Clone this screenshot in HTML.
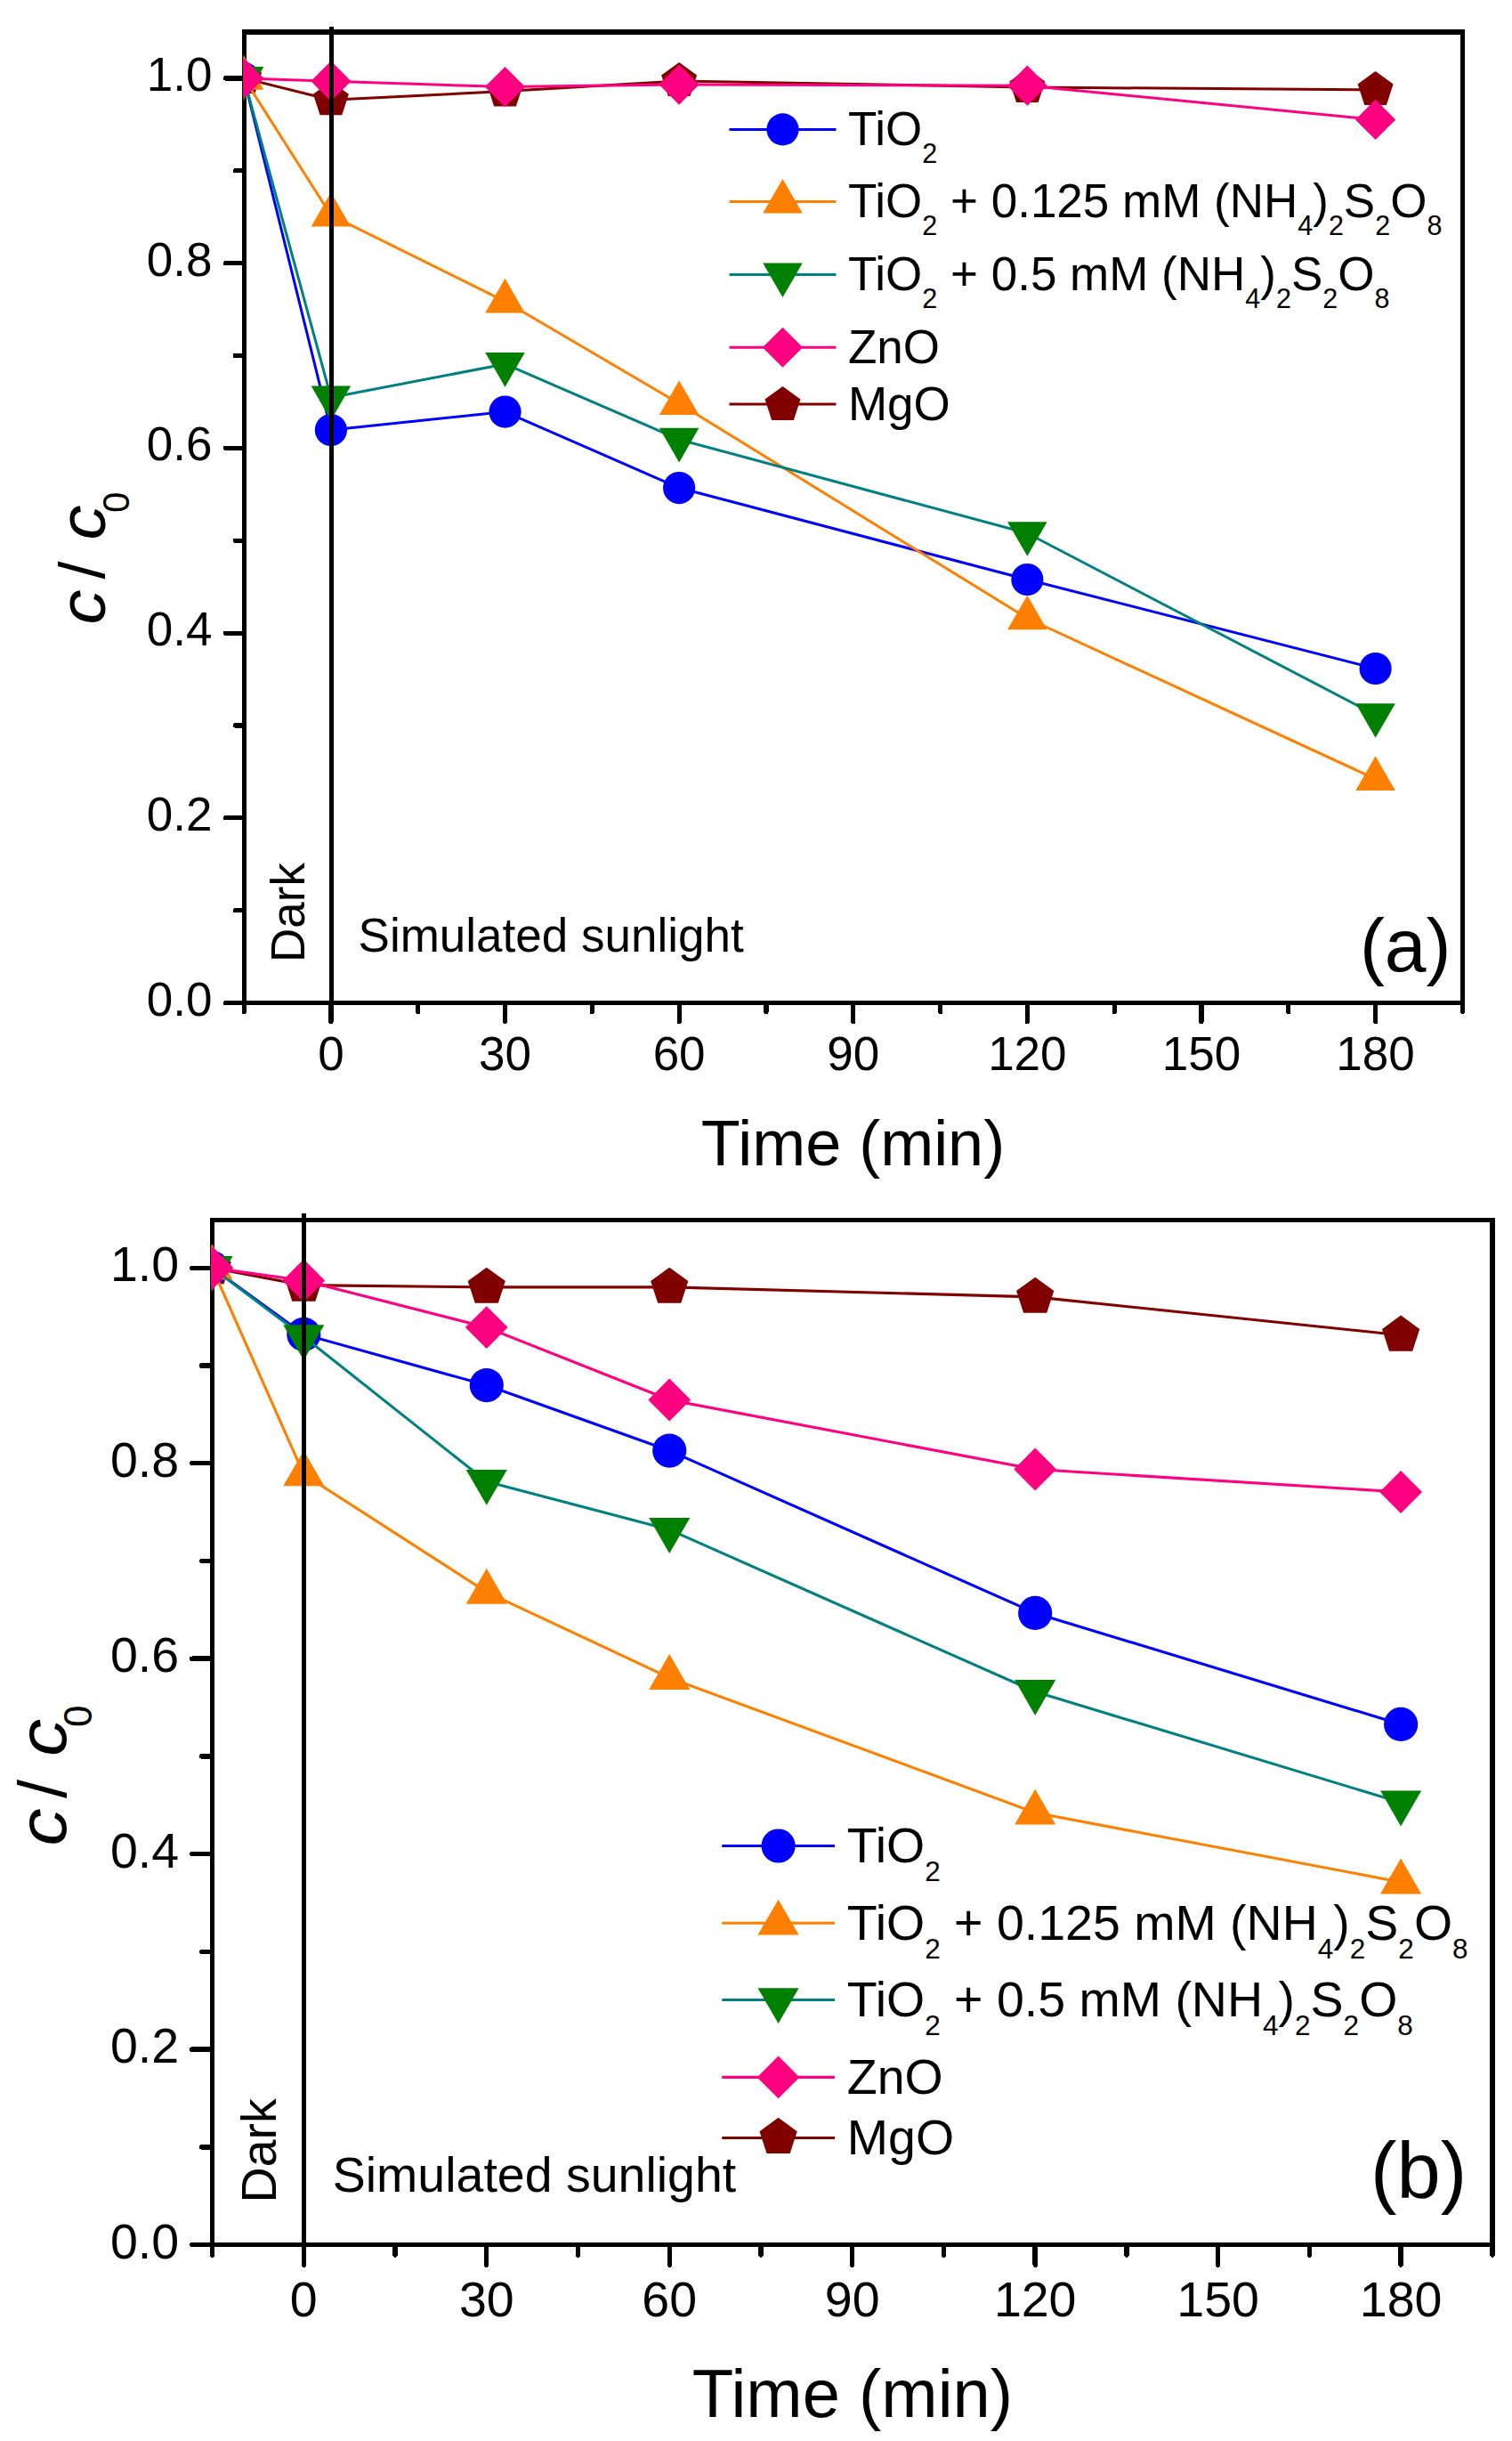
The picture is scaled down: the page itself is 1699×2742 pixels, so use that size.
<!DOCTYPE html>
<html lang="en">
<head>
<meta charset="utf-8">
<title>c/c0 versus time</title>
<style>
html,body{margin:0;padding:0;background:#fff;}
svg{display:block;}
text{font-family:"Liberation Sans", Arial, Helvetica, sans-serif;fill:#000;}
</style>
</head>
<body>
<svg width="1699" height="2742" viewBox="0 0 1699 2742">
<rect width="1699" height="2742" fill="#fff"/>
<g id="panel-a">
<g stroke="#000" stroke-width="5.2" fill="none" stroke-linecap="round" shape-rendering="crispEdges">
<line x1="274.3" y1="1126.6" x2="253.3" y2="1126.6"/>
<line x1="274.3" y1="1022.73" x2="264.3" y2="1022.73"/>
<line x1="274.3" y1="918.86" x2="253.3" y2="918.86"/>
<line x1="274.3" y1="814.99" x2="264.3" y2="814.99"/>
<line x1="274.3" y1="711.12" x2="253.3" y2="711.12"/>
<line x1="274.3" y1="607.25" x2="264.3" y2="607.25"/>
<line x1="274.3" y1="503.38" x2="253.3" y2="503.38"/>
<line x1="274.3" y1="399.51" x2="264.3" y2="399.51"/>
<line x1="274.3" y1="295.64" x2="253.3" y2="295.64"/>
<line x1="274.3" y1="191.77" x2="264.3" y2="191.77"/>
<line x1="274.3" y1="87.9" x2="253.3" y2="87.9"/>
<line x1="274.3" y1="1126.6" x2="274.3" y2="1136.6"/>
<line x1="371.9" y1="1126.6" x2="371.9" y2="1147.6"/>
<line x1="469.71" y1="1126.6" x2="469.71" y2="1136.6"/>
<line x1="567.51" y1="1126.6" x2="567.51" y2="1147.6"/>
<line x1="665.32" y1="1126.6" x2="665.32" y2="1136.6"/>
<line x1="763.13" y1="1126.6" x2="763.13" y2="1147.6"/>
<line x1="860.94" y1="1126.6" x2="860.94" y2="1136.6"/>
<line x1="958.75" y1="1126.6" x2="958.75" y2="1147.6"/>
<line x1="1056.55" y1="1126.6" x2="1056.55" y2="1136.6"/>
<line x1="1154.36" y1="1126.6" x2="1154.36" y2="1147.6"/>
<line x1="1252.17" y1="1126.6" x2="1252.17" y2="1136.6"/>
<line x1="1349.97" y1="1126.6" x2="1349.97" y2="1147.6"/>
<line x1="1447.78" y1="1126.6" x2="1447.78" y2="1136.6"/>
<line x1="1545.59" y1="1126.6" x2="1545.59" y2="1147.6"/>
<line x1="1643.5" y1="1126.6" x2="1643.5" y2="1136.6"/>
</g>
<rect x="274.3" y="35.96" width="1369.2" height="1090.63" fill="none" stroke="#000" stroke-width="5.2" shape-rendering="crispEdges"/>
<clipPath id="clip-a"><rect x="273.3" y="35.96" width="1370.2" height="1090.63"/></clipPath>
<g clip-path="url(#clip-a)">
<polyline fill="none" stroke="#800000" stroke-width="3" stroke-linejoin="round" points="274.09,87.9 371.9,112.21 567.51,102.55 763.13,91.02 1154.36,97.98 1545.59,100.99"/>
<polygon points="274.09,66.9 294.06,81.41 286.44,104.89 261.75,104.89 254.12,81.41" fill="#800000"/>
<polygon points="371.9,91.21 391.87,105.72 384.24,129.19 359.56,129.19 351.93,105.72" fill="#800000"/>
<polygon points="567.51,81.55 587.49,96.06 579.86,119.54 555.17,119.54 547.54,96.06" fill="#800000"/>
<polygon points="763.13,70.02 783.1,84.53 775.47,108.01 750.79,108.01 743.16,84.53" fill="#800000"/>
<polygon points="1154.36,76.98 1174.33,91.49 1166.7,114.96 1142.02,114.96 1134.39,91.49" fill="#800000"/>
<polygon points="1545.59,79.99 1565.56,94.5 1557.93,117.98 1533.25,117.98 1525.62,94.5" fill="#800000"/>
<polyline fill="none" stroke="#0000ff" stroke-width="3" stroke-linejoin="round" points="274.09,87.9 371.9,483.02 567.51,462.56 763.13,548.04 1154.36,650.98 1545.59,751.01"/>
<circle cx="274.09" cy="87.9" r="18.1" fill="#0000ff"/>
<circle cx="371.9" cy="483.02" r="18.1" fill="#0000ff"/>
<circle cx="567.51" cy="462.56" r="18.1" fill="#0000ff"/>
<circle cx="763.13" cy="548.04" r="18.1" fill="#0000ff"/>
<circle cx="1154.36" cy="650.98" r="18.1" fill="#0000ff"/>
<circle cx="1545.59" cy="751.01" r="18.1" fill="#0000ff"/>
<polyline fill="none" stroke="#ff8000" stroke-width="3" stroke-linejoin="round" points="274.09,87.9 371.9,241.73 567.51,338.54 763.13,453.21 1154.36,694.5 1545.59,875.03"/>
<polygon points="274.09,62.2 296.35,100.75 251.84,100.75" fill="#ff8000"/>
<polygon points="371.9,216.03 394.16,254.58 349.64,254.58" fill="#ff8000"/>
<polygon points="567.51,312.84 589.77,351.39 545.26,351.39" fill="#ff8000"/>
<polygon points="763.13,427.51 785.39,466.06 740.87,466.06" fill="#ff8000"/>
<polygon points="1154.36,668.8 1176.62,707.35 1132.1,707.35" fill="#ff8000"/>
<polygon points="1545.59,849.33 1567.85,887.88 1523.33,887.88" fill="#ff8000"/>
<polyline fill="none" stroke="#008080" stroke-width="3" stroke-linejoin="round" points="274.09,87.9 371.9,446.46 567.51,408.96 763.13,493.72 1154.36,599.04 1545.59,803.04"/>
<polygon points="274.09,113.6 296.35,75.05 251.84,75.05" fill="#008000"/>
<polygon points="371.9,472.16 394.16,433.61 349.64,433.61" fill="#008000"/>
<polygon points="567.51,434.66 589.77,396.11 545.26,396.11" fill="#008000"/>
<polygon points="763.13,519.42 785.39,480.87 740.87,480.87" fill="#008000"/>
<polygon points="1154.36,624.74 1176.62,586.19 1132.1,586.19" fill="#008000"/>
<polygon points="1545.59,828.74 1567.85,790.19 1523.33,790.19" fill="#008000"/>
<polyline fill="none" stroke="#ff0080" stroke-width="3" stroke-linejoin="round" points="274.09,87.9 371.9,91.22 567.51,97.56 763.13,95.07 1154.36,96.21 1545.59,134.43"/>
<polygon points="274.09,65.3 296.69,87.9 274.09,110.5 251.49,87.9" fill="#ff0080"/>
<polygon points="371.9,68.62 394.5,91.22 371.9,113.82 349.3,91.22" fill="#ff0080"/>
<polygon points="567.51,74.96 590.12,97.56 567.51,120.16 544.91,97.56" fill="#ff0080"/>
<polygon points="763.13,72.47 785.73,95.07 763.13,117.67 740.53,95.07" fill="#ff0080"/>
<polygon points="1154.36,73.61 1176.96,96.21 1154.36,118.81 1131.76,96.21" fill="#ff0080"/>
<polygon points="1545.59,111.83 1568.19,134.43 1545.59,157.03 1522.99,134.43" fill="#ff0080"/>
</g>
<line x1="372.2" y1="29.5" x2="372.2" y2="1126.6" stroke="#000" stroke-width="4.7" shape-rendering="crispEdges"/>
<g font-size="53" fill="#000">
<text x="238.5" y="1140.6" text-anchor="end">0.0</text>
<text x="238.5" y="932.86" text-anchor="end">0.2</text>
<text x="238.5" y="725.12" text-anchor="end">0.4</text>
<text x="238.5" y="517.38" text-anchor="end">0.6</text>
<text x="238.5" y="309.64" text-anchor="end">0.8</text>
<text x="238.5" y="101.9" text-anchor="end">1.0</text>
<text x="371.9" y="1201.7" text-anchor="middle">0</text>
<text x="567.51" y="1201.7" text-anchor="middle">30</text>
<text x="763.13" y="1201.7" text-anchor="middle">60</text>
<text x="958.75" y="1201.7" text-anchor="middle">90</text>
<text x="1154.36" y="1201.7" text-anchor="middle">120</text>
<text x="1349.97" y="1201.7" text-anchor="middle">150</text>
<text x="1545.59" y="1201.7" text-anchor="middle">180</text>
</g>
<text x="958.5" y="1308.75" font-size="72" text-anchor="middle">Time (min)</text>
<g font-size="72">
<text transform="translate(118,701.5) rotate(-90) scale(1.054,1)" font-style="italic" font-size="74">c</text>
<text transform="translate(117,650.6) rotate(-90)">/</text>
<text transform="translate(118,606.5) rotate(-90) scale(1.054,1)" font-style="italic" font-size="74">c</text>
<text transform="translate(144.5,576) rotate(-90)" font-size="42">0</text>
</g>
<g font-size="53">
<text transform="translate(341.5,1081) rotate(-90)">Dark</text>
<text x="402.6" y="1068.7">Simulated sunlight</text>
</g>
<text x="1527.9" y="1091.3" font-size="84">(a)</text>
<g font-size="53">
<line x1="819.5" y1="145.4" x2="939.5" y2="145.4" stroke="#0000ff" stroke-width="3"/>
<circle cx="879.5" cy="145.4" r="18.1" fill="#0000ff"/>
<text x="952.9" y="163">TiO<tspan font-size="30.5" dy="19.8">2</tspan></text>
<line x1="819.5" y1="226.6" x2="939.5" y2="226.6" stroke="#ff8000" stroke-width="3"/>
<polygon points="879.5,200.9 901.76,239.45 857.24,239.45" fill="#ff8000"/>
<text x="952.9" y="244.2">TiO<tspan font-size="30.5" dy="19.8">2</tspan><tspan dy="-19.8"> + 0.125 mM (NH</tspan><tspan font-size="30.5" dy="19.8">4</tspan><tspan dy="-19.8">)</tspan><tspan font-size="30.5" dy="19.8">2</tspan><tspan dy="-19.8">S</tspan><tspan font-size="30.5" dy="19.8">2</tspan><tspan dy="-19.8">O</tspan><tspan font-size="30.5" dy="19.8">8</tspan></text>
<line x1="819.5" y1="308.4" x2="939.5" y2="308.4" stroke="#008080" stroke-width="3"/>
<polygon points="879.5,334.1 901.76,295.55 857.24,295.55" fill="#008000"/>
<text x="952.9" y="326">TiO<tspan font-size="30.5" dy="19.8">2</tspan><tspan dy="-19.8"> + 0.5 mM (NH</tspan><tspan font-size="30.5" dy="19.8">4</tspan><tspan dy="-19.8">)</tspan><tspan font-size="30.5" dy="19.8">2</tspan><tspan dy="-19.8">S</tspan><tspan font-size="30.5" dy="19.8">2</tspan><tspan dy="-19.8">O</tspan><tspan font-size="30.5" dy="19.8">8</tspan></text>
<line x1="819.5" y1="390.25" x2="939.5" y2="390.25" stroke="#ff0080" stroke-width="3"/>
<polygon points="879.5,367.65 902.1,390.25 879.5,412.85 856.9,390.25" fill="#ff0080"/>
<text x="952.9" y="407.85">ZnO</text>
<line x1="819.5" y1="454.1" x2="939.5" y2="454.1" stroke="#800000" stroke-width="3"/>
<polygon points="879.5,434.1 899.47,448.61 891.84,472.09 867.16,472.09 859.53,448.61" fill="#800000"/>
<text x="952.9" y="471.7">MgO</text>
</g>
</g>
<g id="panel-b">
<g stroke="#000" stroke-width="5.4" fill="none" stroke-linecap="round" shape-rendering="crispEdges">
<line x1="238.2" y1="2521.6" x2="215.7" y2="2521.6"/>
<line x1="238.2" y1="2411.86" x2="226.7" y2="2411.86"/>
<line x1="238.2" y1="2302.13" x2="215.7" y2="2302.13"/>
<line x1="238.2" y1="2192.39" x2="226.7" y2="2192.39"/>
<line x1="238.2" y1="2082.66" x2="215.7" y2="2082.66"/>
<line x1="238.2" y1="1972.92" x2="226.7" y2="1972.92"/>
<line x1="238.2" y1="1863.19" x2="215.7" y2="1863.19"/>
<line x1="238.2" y1="1753.45" x2="226.7" y2="1753.45"/>
<line x1="238.2" y1="1643.72" x2="215.7" y2="1643.72"/>
<line x1="238.2" y1="1533.99" x2="226.7" y2="1533.99"/>
<line x1="238.2" y1="1424.25" x2="215.7" y2="1424.25"/>
<line x1="238.2" y1="2521.6" x2="238.2" y2="2533.1"/>
<line x1="341.3" y1="2521.6" x2="341.3" y2="2544.1"/>
<line x1="444.04" y1="2521.6" x2="444.04" y2="2533.1"/>
<line x1="546.77" y1="2521.6" x2="546.77" y2="2544.1"/>
<line x1="649.5" y1="2521.6" x2="649.5" y2="2533.1"/>
<line x1="752.24" y1="2521.6" x2="752.24" y2="2544.1"/>
<line x1="854.98" y1="2521.6" x2="854.98" y2="2533.1"/>
<line x1="957.71" y1="2521.6" x2="957.71" y2="2544.1"/>
<line x1="1060.44" y1="2521.6" x2="1060.44" y2="2533.1"/>
<line x1="1163.18" y1="2521.6" x2="1163.18" y2="2544.1"/>
<line x1="1265.91" y1="2521.6" x2="1265.91" y2="2533.1"/>
<line x1="1368.65" y1="2521.6" x2="1368.65" y2="2544.1"/>
<line x1="1471.38" y1="2521.6" x2="1471.38" y2="2533.1"/>
<line x1="1574.12" y1="2521.6" x2="1574.12" y2="2544.1"/>
<line x1="1677.1" y1="2521.6" x2="1677.1" y2="2533.1"/>
</g>
<rect x="238.2" y="1370.3" width="1438.9" height="1151.3" fill="none" stroke="#000" stroke-width="5.4" shape-rendering="crispEdges"/>
<clipPath id="clip-b"><rect x="237.2" y="1370.3" width="1439.9" height="1151.3"/></clipPath>
<g clip-path="url(#clip-b)">
<polyline fill="none" stroke="#800000" stroke-width="3.1" stroke-linejoin="round" points="238.56,1424.25 341.3,1443.67 546.77,1445.87 752.24,1445.87 1163.18,1456.84 1574.12,1499.75"/>
<polygon points="238.56,1402.05 259.68,1417.39 251.61,1442.21 225.52,1442.21 217.45,1417.39" fill="#800000"/>
<polygon points="341.3,1421.47 362.41,1436.81 354.35,1461.63 328.25,1461.63 320.19,1436.81" fill="#800000"/>
<polygon points="546.77,1423.67 567.88,1439.01 559.82,1463.83 533.72,1463.83 525.66,1439.01" fill="#800000"/>
<polygon points="752.24,1423.67 773.35,1439.01 765.29,1463.83 739.19,1463.83 731.13,1439.01" fill="#800000"/>
<polygon points="1163.18,1434.64 1184.29,1449.98 1176.23,1474.8 1150.13,1474.8 1142.07,1449.98" fill="#800000"/>
<polygon points="1574.12,1477.55 1595.23,1492.89 1587.17,1517.71 1561.07,1517.71 1553.01,1492.89" fill="#800000"/>
<polyline fill="none" stroke="#0000ff" stroke-width="3.1" stroke-linejoin="round" points="238.56,1424.25 341.3,1498.87 546.77,1556.04 752.24,1629.56 1163.18,1811.94 1574.12,1936.93"/>
<circle cx="238.56" cy="1424.25" r="19.1" fill="#0000ff"/>
<circle cx="341.3" cy="1498.87" r="19.1" fill="#0000ff"/>
<circle cx="546.77" cy="1556.04" r="19.1" fill="#0000ff"/>
<circle cx="752.24" cy="1629.56" r="19.1" fill="#0000ff"/>
<circle cx="1163.18" cy="1811.94" r="19.1" fill="#0000ff"/>
<circle cx="1574.12" cy="1936.93" r="19.1" fill="#0000ff"/>
<polyline fill="none" stroke="#ff8000" stroke-width="3.1" stroke-linejoin="round" points="238.56,1424.25 341.3,1656.01 546.77,1788.35 752.24,1884.7 1163.18,2036.24 1574.12,2114.15"/>
<polygon points="238.56,1397.65 261.6,1437.55 215.53,1437.55" fill="#ff8000"/>
<polygon points="341.3,1629.41 364.34,1669.31 318.26,1669.31" fill="#ff8000"/>
<polygon points="546.77,1761.75 569.81,1801.65 523.73,1801.65" fill="#ff8000"/>
<polygon points="752.24,1858.1 775.28,1898 729.2,1898" fill="#ff8000"/>
<polygon points="1163.18,2009.64 1186.22,2049.54 1140.14,2049.54" fill="#ff8000"/>
<polygon points="1574.12,2087.55 1597.16,2127.45 1551.08,2127.45" fill="#ff8000"/>
<polyline fill="none" stroke="#008080" stroke-width="3.1" stroke-linejoin="round" points="238.56,1424.25 341.3,1501.5 546.77,1664.24 752.24,1718.34 1163.18,1900.28 1574.12,2024.83"/>
<polygon points="238.56,1450.85 261.6,1410.95 215.53,1410.95" fill="#008000"/>
<polygon points="341.3,1528.1 364.34,1488.2 318.26,1488.2" fill="#008000"/>
<polygon points="546.77,1690.84 569.81,1650.94 523.73,1650.94" fill="#008000"/>
<polygon points="752.24,1744.94 775.28,1705.04 729.2,1705.04" fill="#008000"/>
<polygon points="1163.18,1926.88 1186.22,1886.98 1140.14,1886.98" fill="#008000"/>
<polygon points="1574.12,2051.43 1597.16,2011.53 1551.08,2011.53" fill="#008000"/>
<polyline fill="none" stroke="#ff0080" stroke-width="3.1" stroke-linejoin="round" points="238.56,1424.25 341.3,1438.52 546.77,1491.08 752.24,1572.5 1163.18,1650.52 1574.12,1675.98"/>
<polygon points="238.56,1400.35 262.46,1424.25 238.56,1448.15 214.66,1424.25" fill="#ff0080"/>
<polygon points="341.3,1414.62 365.2,1438.52 341.3,1462.42 317.4,1438.52" fill="#ff0080"/>
<polygon points="546.77,1467.18 570.67,1491.08 546.77,1514.98 522.87,1491.08" fill="#ff0080"/>
<polygon points="752.24,1548.6 776.14,1572.5 752.24,1596.4 728.34,1572.5" fill="#ff0080"/>
<polygon points="1163.18,1626.62 1187.08,1650.52 1163.18,1674.42 1139.28,1650.52" fill="#ff0080"/>
<polygon points="1574.12,1652.08 1598.02,1675.98 1574.12,1699.88 1550.22,1675.98" fill="#ff0080"/>
</g>
<line x1="341.9" y1="1363.3" x2="341.9" y2="2521.6" stroke="#000" stroke-width="5.1" shape-rendering="crispEdges"/>
<g font-size="55.5" fill="#000">
<text x="201.1" y="2536.6" text-anchor="end">0.0</text>
<text x="201.1" y="2317.13" text-anchor="end">0.2</text>
<text x="201.1" y="2097.66" text-anchor="end">0.4</text>
<text x="201.1" y="1878.19" text-anchor="end">0.6</text>
<text x="201.1" y="1658.72" text-anchor="end">0.8</text>
<text x="201.1" y="1439.25" text-anchor="end">1.0</text>
<text x="341.3" y="2601.5" text-anchor="middle">0</text>
<text x="546.77" y="2601.5" text-anchor="middle">30</text>
<text x="752.24" y="2601.5" text-anchor="middle">60</text>
<text x="957.71" y="2601.5" text-anchor="middle">90</text>
<text x="1163.18" y="2601.5" text-anchor="middle">120</text>
<text x="1368.65" y="2601.5" text-anchor="middle">150</text>
<text x="1574.12" y="2601.5" text-anchor="middle">180</text>
</g>
<text x="958" y="2714.5" font-size="76" text-anchor="middle">Time (min)</text>
<g font-size="76">
<text transform="translate(73.7,2073.5) rotate(-90) scale(1.1,1)" font-style="italic" font-size="76.5">c</text>
<text transform="translate(74,2020) rotate(-90)">/</text>
<text transform="translate(73.7,1973) rotate(-90) scale(1.1,1)" font-style="italic" font-size="76.5">c</text>
<text transform="translate(102.6,1940) rotate(-90)" font-size="44">0</text>
</g>
<g font-size="55.5">
<text transform="translate(309.5,2474.4) rotate(-90)">Dark</text>
<text x="373.75" y="2461.8">Simulated sunlight</text>
</g>
<text x="1540.1" y="2469.3" font-size="88.5">(b)</text>
<g font-size="55.5">
<line x1="811.25" y1="2073.5" x2="938" y2="2073.5" stroke="#0000ff" stroke-width="3.1"/>
<circle cx="874.6" cy="2073.5" r="19.1" fill="#0000ff"/>
<text x="951.8" y="2092">TiO<tspan font-size="31.5" dy="20.8">2</tspan></text>
<line x1="811.25" y1="2160.25" x2="938" y2="2160.25" stroke="#ff8000" stroke-width="3.1"/>
<polygon points="874.6,2133.65 897.64,2173.55 851.56,2173.55" fill="#ff8000"/>
<text x="951.8" y="2178.75">TiO<tspan font-size="31.5" dy="20.8">2</tspan><tspan dy="-20.8"> + 0.125 mM (NH</tspan><tspan font-size="31.5" dy="20.8">4</tspan><tspan dy="-20.8">)</tspan><tspan font-size="31.5" dy="20.8">2</tspan><tspan dy="-20.8">S</tspan><tspan font-size="31.5" dy="20.8">2</tspan><tspan dy="-20.8">O</tspan><tspan font-size="31.5" dy="20.8">8</tspan></text>
<line x1="811.25" y1="2246.5" x2="938" y2="2246.5" stroke="#008080" stroke-width="3.1"/>
<polygon points="874.6,2273.1 897.64,2233.2 851.56,2233.2" fill="#008000"/>
<text x="951.8" y="2265">TiO<tspan font-size="31.5" dy="20.8">2</tspan><tspan dy="-20.8"> + 0.5 mM (NH</tspan><tspan font-size="31.5" dy="20.8">4</tspan><tspan dy="-20.8">)</tspan><tspan font-size="31.5" dy="20.8">2</tspan><tspan dy="-20.8">S</tspan><tspan font-size="31.5" dy="20.8">2</tspan><tspan dy="-20.8">O</tspan><tspan font-size="31.5" dy="20.8">8</tspan></text>
<line x1="811.25" y1="2333.4" x2="938" y2="2333.4" stroke="#ff0080" stroke-width="3.1"/>
<polygon points="874.6,2309.5 898.5,2333.4 874.6,2357.3 850.7,2333.4" fill="#ff0080"/>
<text x="951.8" y="2351.9">ZnO</text>
<line x1="811.25" y1="2401.5" x2="938" y2="2401.5" stroke="#800000" stroke-width="3.1"/>
<polygon points="874.6,2378.8 895.71,2394.14 887.65,2418.96 861.55,2418.96 853.49,2394.14" fill="#800000"/>
<text x="951.8" y="2420">MgO</text>
</g>
</g>
</svg>
</body>
</html>
